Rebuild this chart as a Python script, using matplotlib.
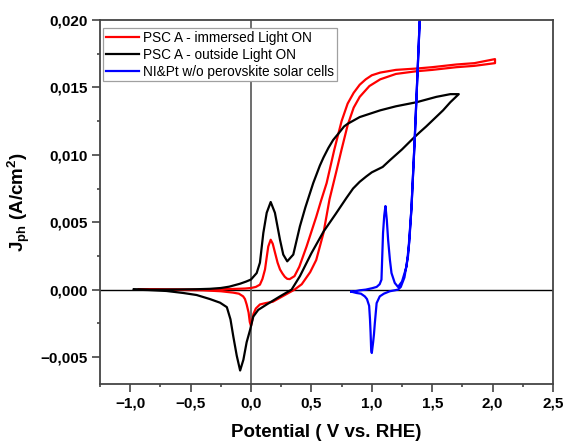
import numpy as np
import matplotlib
matplotlib.use("Agg")
import matplotlib.pyplot as plt
from matplotlib.ticker import MultipleLocator, FuncFormatter

# PSC A - immersed, Light ON (forward then reverse scan)
red_fwd_v = [-0.93, -0.7, -0.5, -0.3, -0.15, -0.05, 0.0, 0.04, 0.074, 0.095, 0.116, 0.13, 0.143, 0.163,
             0.18, 0.2, 0.22, 0.24, 0.26, 0.28, 0.3, 0.32, 0.36, 0.4, 0.46, 0.5, 0.54, 0.58, 0.626, 0.69,
             0.75, 0.8, 0.85, 0.9, 0.95, 1.0, 1.07, 1.2, 1.37, 1.5, 1.7, 1.85, 2.02]
red_fwd_j = [0.0, 0.0, 0.00001, 0.00002, 0.00005, 0.00008, 0.00012, 0.0002, 0.00037, 0.0008, 0.0015, 0.0024,
             0.0032, 0.0037, 0.0034, 0.0027, 0.002, 0.0015, 0.0012, 0.00095, 0.0008, 0.00078, 0.001, 0.0017,
             0.0032, 0.0043, 0.0054, 0.0066, 0.0079, 0.0104, 0.0125, 0.0138, 0.0146, 0.0152, 0.0156, 0.0159,
             0.0161, 0.0163, 0.0164, 0.0165, 0.0167, 0.0168, 0.0171]
red_rev_v = [2.02, 1.85, 1.7, 1.5, 1.37, 1.2, 1.07, 0.98, 0.9, 0.85, 0.8, 0.75, 0.71, 0.65, 0.6, 0.54, 0.49,
             0.42, 0.36, 0.3, 0.24, 0.18, 0.12, 0.074, 0.04, 0.02, 0.0, -0.01, -0.02, -0.036, -0.05, -0.065,
             -0.1, -0.15, -0.25, -0.4, -0.6, -0.8, -0.93]
red_rev_j = [0.0168, 0.0166, 0.0165, 0.0163, 0.0162, 0.016, 0.0156, 0.0151, 0.0143, 0.0135, 0.0122, 0.0104,
             0.0089, 0.0067, 0.0042, 0.0022, 0.0013, 0.0004, 0.0, -0.0003, -0.0006, -0.0009, -0.001, -0.0011,
             -0.0014, -0.0018, -0.0027, -0.0024, -0.0017, -0.0011, -0.0007, -0.0005, -0.0003, -0.00022,
             -0.00012, -0.00005, -0.00002, 0.0, 0.0]

# PSC A - outside, Light ON
blk_fwd_v = [-0.97, -0.8, -0.6, -0.45, -0.34, -0.25, -0.18, -0.09, -0.04, 0.0, 0.047, 0.074, 0.102, 0.13,
             0.163, 0.198, 0.24, 0.267, 0.3, 0.35, 0.405, 0.45, 0.515, 0.57, 0.6, 0.64, 0.68, 0.735, 0.77,
             0.8, 0.9, 1.07, 1.2, 1.37, 1.535, 1.65, 1.72]
blk_fwd_j = [0.0, 0.0, 0.00001, 0.00003, 0.00006, 0.00012, 0.00022, 0.00044, 0.0006, 0.00075, 0.00123,
             0.002, 0.0042, 0.0057, 0.0065, 0.0057, 0.0037, 0.0026, 0.0021, 0.0026, 0.0047, 0.0061, 0.0079,
             0.0092, 0.0098, 0.0105, 0.0111, 0.0117, 0.0121, 0.0123, 0.0128, 0.0133, 0.0136, 0.0139, 0.0143,
             0.0145, 0.0145]
blk_rev_v = [1.72, 1.65, 1.59, 1.52, 1.45, 1.4, 1.34, 1.25, 1.15, 1.09, 1.0, 0.955, 0.9, 0.845, 0.79, 0.7,
             0.6, 0.5, 0.405, 0.336, 0.24, 0.13, 0.06, 0.019, -0.008, -0.036, -0.063, -0.09, -0.118, -0.146,
             -0.17, -0.2, -0.256, -0.34, -0.45, -0.56, -0.7, -0.85, -0.97]
blk_rev_j = [0.0145, 0.0139, 0.0133, 0.0127, 0.0121, 0.0117, 0.0112, 0.0104, 0.0096, 0.0091, 0.0087, 0.0084,
             0.008, 0.0075, 0.0068, 0.0056, 0.0043, 0.0027, 0.001, 0.0, -0.0005, -0.0011, -0.0015, -0.002,
             -0.003, -0.0039, -0.0052, -0.006, -0.0049, -0.0035, -0.0022, -0.0013, -0.00097, -0.0007,
             -0.0004, -0.00025, -0.0001, -0.00003, 0.0]

# NI&Pt w/o perovskite solar cells
blu_fwd_v = [0.83, 0.874, 0.9, 0.95, 1.0, 1.04, 1.065, 1.08, 1.093, 1.103, 1.113, 1.124, 1.135, 1.15, 1.163,
             1.19, 1.217, 1.25, 1.287, 1.31, 1.328, 1.355, 1.38, 1.42]
blu_fwd_j = [-0.00015, -0.0001, -0.00005, 0.0, 0.0001, 0.0002, 0.0004, 0.00074, 0.0042, 0.0055, 0.0062,
             0.0052, 0.0037, 0.0022, 0.00123, 0.0005, 0.0002, 0.0006, 0.0017, 0.0035, 0.006, 0.0111, 0.0164,
             0.025]
blu_rev_v = [1.42, 1.38, 1.355, 1.328, 1.3, 1.27, 1.24, 1.217, 1.19, 1.149, 1.1, 1.066, 1.04, 1.025, 1.018,
             1.011, 1.0, 0.995, 0.99, 0.985, 0.978, 0.96, 0.942, 0.91, 0.874, 0.83]
blu_rev_j = [0.025, 0.0164, 0.0111, 0.006, 0.0025, 0.0009, 0.0002, 0.0, -0.00005, -0.00012, -0.0003, -0.0005,
             -0.001, -0.0025, -0.0033, -0.0039, -0.0047, -0.0045, -0.0032, -0.0022, -0.0012, -0.0007,
             -0.0005, -0.0003, -0.00025, -0.00015]

labels = ["PSC A - immersed Light ON", "PSC A - outside Light ON", "NI&Pt w/o perovskite solar cells"]
colors = ["#ff0000", "#000000", "#0000ff"]

plt.rcParams["font.family"] = ["Liberation Sans", "DejaVu Sans"]
plt.rcParams["mathtext.fontset"] = "custom"
plt.rcParams["mathtext.rm"] = "Liberation Sans:bold"
plt.rcParams["mathtext.it"] = "Liberation Sans:bold"
plt.rcParams["mathtext.bf"] = "Liberation Sans:bold"

fig = plt.figure(figsize=(5.63, 4.41), dpi=100)
ax = fig.add_axes([100 / 563, 57 / 441, 453 / 563, 364 / 441])

series = [
    (red_fwd_v + red_rev_v, red_fwd_j + red_rev_j),
    (blk_fwd_v + blk_rev_v, blk_fwd_j + blk_rev_j),
    (blu_fwd_v + blu_rev_v, blu_fwd_j + blu_rev_j),
]
for (v, j), lab, c in zip(series, labels, colors):
    ax.plot(v, j, color=c, linewidth=1.6, label=lab, solid_joinstyle="round")

ax.axhline(0, color="black", linewidth=1.0, zorder=0)
ax.axvline(0, color="#555555", linewidth=1.2, zorder=0)

ax.set_xlim(-1.25, 2.5)
ax.set_ylim(-0.007, 0.020)
ax.xaxis.set_major_locator(MultipleLocator(0.5))
ax.xaxis.set_minor_locator(MultipleLocator(0.25))
ax.yaxis.set_major_locator(MultipleLocator(0.005))
ax.yaxis.set_minor_locator(MultipleLocator(0.0025))
ax.xaxis.set_major_formatter(FuncFormatter(lambda x, p: f"{x:.1f}".replace(".", ",").replace("-", "\u2212")))
ax.yaxis.set_major_formatter(FuncFormatter(lambda y, p: f"{y:.3f}".replace(".", ",").replace("-", "\u2212")))

for s in ax.spines.values():
    s.set_color("#444444")
    s.set_linewidth(1.3)
ax.tick_params(which="both", direction="out", colors="#444444", labelcolor="black", width=1.2)
ax.tick_params(which="major", length=5.5, pad=3.5, labelsize=11)
ax.tick_params(which="minor", length=2.5)
for t in ax.get_xticklabels() + ax.get_yticklabels():
    t.set_fontweight("bold")

ax.set_xlabel("Potential ( V vs. RHE)", fontsize=13.5, fontweight="bold", labelpad=10)
ax.set_ylabel(r"$\mathrm{J_{ph}}$ (A/cm$^{\mathrm{2}}$)", fontsize=13.5, fontweight="bold", labelpad=6)

leg = ax.legend(loc="upper left", bbox_to_anchor=(0.0073, 0.977), borderaxespad=0, fontsize=9.8,
                frameon=True, fancybox=False, framealpha=1, edgecolor="#a0a0a0",
                handlelength=2.4, handletextpad=0.3, labelspacing=0.2, borderpad=0.2)
leg.get_frame().set_linewidth(0.9)

fig.savefig("out.png", dpi=100)
